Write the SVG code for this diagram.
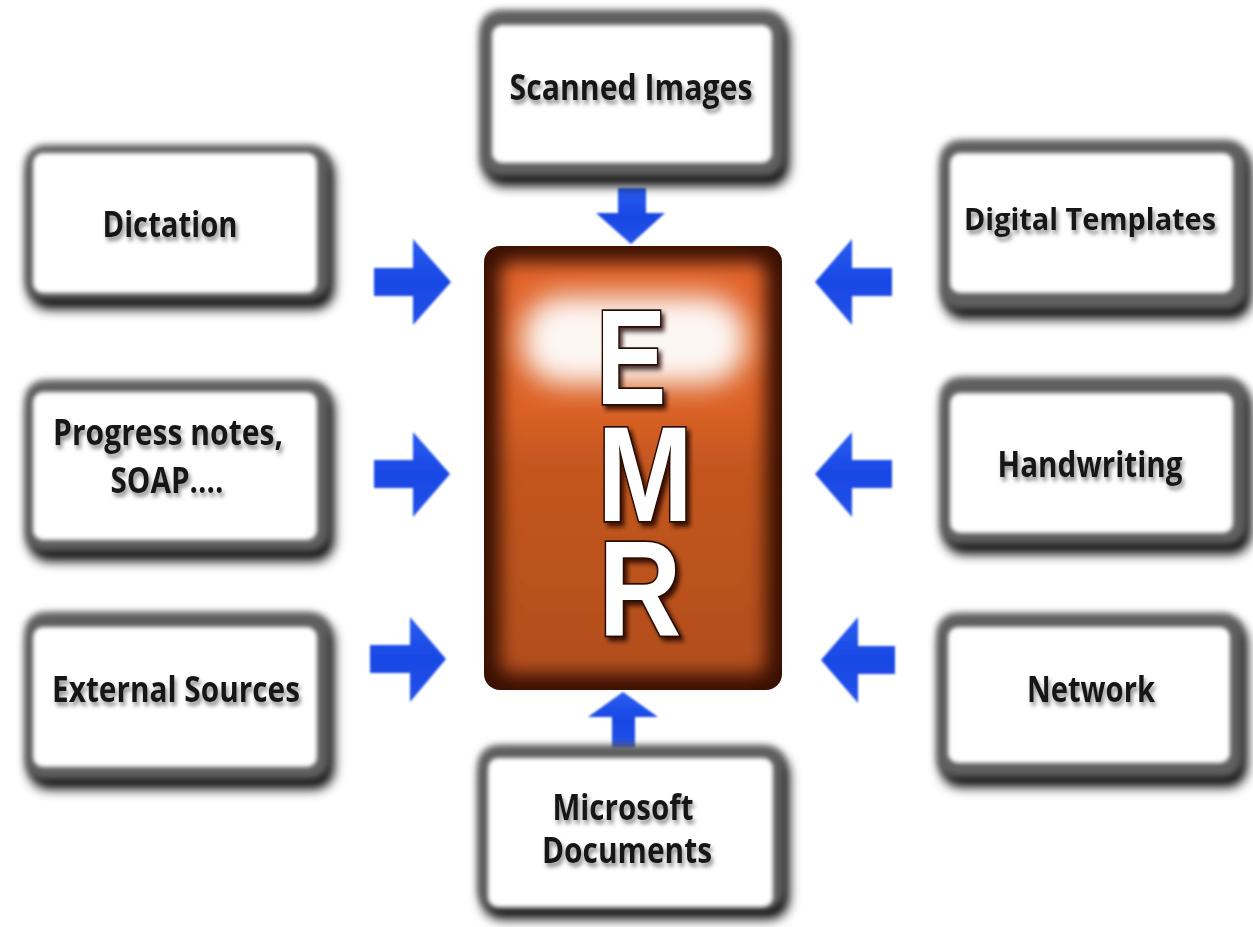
<svg xmlns="http://www.w3.org/2000/svg" width="1253" height="927" viewBox="0 0 1253 927">
<defs>
  <filter id="sh" x="-20%" y="-30%" width="140%" height="170%">
    <feGaussianBlur stdDeviation="6"/>
    <feOffset dx="4" dy="9"/>
  </filter>
  <filter id="rimf" x="-10%" y="-15%" width="120%" height="130%">
    <feGaussianBlur stdDeviation="3.5"/>
  </filter>
  <filter id="facef" x="-10%" y="-15%" width="120%" height="130%">
    <feGaussianBlur stdDeviation="2"/>
  </filter>
  <filter id="txt" x="-10%" y="-40%" width="120%" height="180%">
    <feDropShadow dx="2" dy="4" stdDeviation="2.2" flood-color="#666" flood-opacity="0.75"/>
  </filter>
  <filter id="arr" x="-20%" y="-20%" width="140%" height="140%">
    <feGaussianBlur stdDeviation="0.9"/>
  </filter>
  <filter id="blur6" x="-20%" y="-20%" width="140%" height="140%">
    <feGaussianBlur stdDeviation="9"/>
  </filter>
  <filter id="hl" x="-40%" y="-80%" width="180%" height="260%">
    <feGaussianBlur stdDeviation="14"/>
  </filter>
  <filter id="emrt" x="-30%" y="-20%" width="170%" height="150%">
    <feDropShadow dx="4" dy="4" stdDeviation="2.5" flood-color="#1a0500" flood-opacity="0.8"/>
  </filter>
  <linearGradient id="emrg" x1="0" y1="0" x2="0" y2="1">
    <stop offset="0" stop-color="#e2652a"/>
    <stop offset="0.35" stop-color="#dc6226"/>
    <stop offset="0.5" stop-color="#c3561f"/>
    <stop offset="1" stop-color="#b24e1e"/>
  </linearGradient>
  <linearGradient id="blueh" x1="0" y1="0" x2="0" y2="1">
    <stop offset="0" stop-color="#2a5cf0"/>
    <stop offset="0.5" stop-color="#1848e4"/>
    <stop offset="1" stop-color="#2452e8"/>
  </linearGradient>
  <style>
    .shadow { fill:#000000; filter:url(#sh); }
    .rim { fill:#5e5e5e; filter:url(#rimf); }
    .face { fill:#ffffff; filter:url(#facef); }
    .lbl { font-family:"Open Sans","Noto Sans","Liberation Sans",sans-serif; font-weight:700; font-size:35px; fill:#161616; text-anchor:middle; filter:url(#txt); }
    .ar { fill:url(#blueh); filter:url(#arr); }
    .emr { font-family:"Liberation Sans","DejaVu Sans",sans-serif; font-weight:700; font-size:135px; fill:#ffffff; stroke:#2a0c02; stroke-width:3.5; paint-order:stroke; text-anchor:middle; filter:url(#emrt); }
  </style>
</defs>
<rect width="1253" height="927" fill="#ffffff"/>

<g id="connectors">
  <polygon class="ar" points="374,268 413,268 413,239 451,282 413,325 413,296 374,296"/>
  <polygon class="ar" points="374,460 413,460 413,432 450,474 413,517 413,488 374,488"/>
  <polygon class="ar" points="370,645 410,645 410,617 446,659 410,702 410,673 370,673"/>
  <polygon class="ar" points="892,268 852,268 852,239 815,282 852,325 852,296 892,296"/>
  <polygon class="ar" points="892,460 852,460 852,432 815,474 852,517 852,488 892,488"/>
  <polygon class="ar" points="895,646 858,646 858,617 821,660 858,703 858,674 895,674"/>
  <polygon class="ar" points="618,188 646,188 646,213 665,213 631,244 596,213 618,213"/>
  <polygon class="ar" points="612,748 635,748 635,717 658,717 623,692 588,717 612,717"/>
</g>

<g id="emr">
  <rect x="484" y="246" width="298" height="444" rx="16" fill="#3a1003"/>
  <rect x="500" y="262" width="266" height="412" rx="12" fill="url(#emrg)" filter="url(#blur6)"/>
  <rect x="522" y="296" width="224" height="88" rx="40" fill="#ffffff" opacity="0.95" filter="url(#hl)"/>
  <text class="emr" transform="translate(631,404) scale(0.78,1)">E</text>
  <text class="emr" transform="translate(645,521) scale(0.85,1)">M</text>
  <text class="emr" transform="translate(640,635) scale(0.85,1)">R</text>
</g>

<g id="n-scanned">
  <rect class="shadow" x="480" y="10" width="305" height="167" rx="20"/>
  <rect class="rim" x="480" y="10" width="305" height="167" rx="20"/>
  <rect class="face" x="492" y="25" width="280" height="138" rx="10"/>
  <text class="lbl" x="631" y="100" textLength="243" lengthAdjust="spacingAndGlyphs">Scanned Images</text>
</g>

<g id="n-dictation">
  <rect class="shadow" x="25" y="145" width="305" height="155" rx="20"/>
  <rect class="rim" x="25" y="145" width="305" height="155" rx="20"/>
  <rect class="face" x="33" y="153" width="284" height="140" rx="10"/>
  <text class="lbl" x="170" y="237" textLength="135" lengthAdjust="spacingAndGlyphs">Dictation</text>
</g>

<g id="n-progress">
  <rect class="shadow" x="25" y="380" width="305" height="172" rx="20"/>
  <rect class="rim" x="25" y="380" width="305" height="172" rx="20"/>
  <rect class="face" x="33" y="392" width="284" height="148" rx="10"/>
  <text class="lbl" x="168" y="445" textLength="230" lengthAdjust="spacingAndGlyphs">Progress notes,</text>
  <text class="lbl" x="167" y="493" textLength="113" lengthAdjust="spacingAndGlyphs">SOAP....</text>
</g>

<g id="n-external">
  <rect class="shadow" x="25" y="612" width="305" height="168" rx="20"/>
  <rect class="rim" x="25" y="612" width="305" height="168" rx="20"/>
  <rect class="face" x="33" y="627" width="284" height="140" rx="10"/>
  <text class="lbl" x="176" y="702" textLength="248" lengthAdjust="spacingAndGlyphs">External Sources</text>
</g>

<g id="n-digital">
  <rect class="shadow" x="940" y="140" width="307" height="170" rx="20"/>
  <rect class="rim" x="940" y="140" width="307" height="170" rx="20"/>
  <rect class="face" x="950" y="153" width="283" height="140" rx="10"/>
  <text class="lbl" x="1090" y="230" style="font-size:31px" textLength="252" lengthAdjust="spacingAndGlyphs">Digital Templates</text>
</g>

<g id="n-handwriting">
  <rect class="shadow" x="940" y="377" width="307" height="168" rx="20"/>
  <rect class="rim" x="940" y="377" width="307" height="168" rx="20"/>
  <rect class="face" x="950" y="393" width="283" height="140" rx="10"/>
  <text class="lbl" x="1090" y="477" textLength="185" lengthAdjust="spacingAndGlyphs">Handwriting</text>
</g>

<g id="n-network">
  <rect class="shadow" x="937" y="613" width="306" height="165" rx="20"/>
  <rect class="rim" x="937" y="613" width="306" height="165" rx="20"/>
  <rect class="face" x="948" y="627" width="282" height="136" rx="10"/>
  <text class="lbl" x="1091" y="702" textLength="128" lengthAdjust="spacingAndGlyphs">Network</text>
</g>

<g id="n-microsoft">
  <rect class="shadow" x="478" y="745" width="307" height="165" rx="20"/>
  <rect class="rim" x="478" y="745" width="307" height="165" rx="20"/>
  <rect class="face" x="488" y="758" width="285" height="149" rx="10"/>
  <text class="lbl" x="623" y="820" textLength="141" lengthAdjust="spacingAndGlyphs">Microsoft</text>
  <text class="lbl" x="627" y="863" textLength="170" lengthAdjust="spacingAndGlyphs">Documents</text>
</g>
</svg>
